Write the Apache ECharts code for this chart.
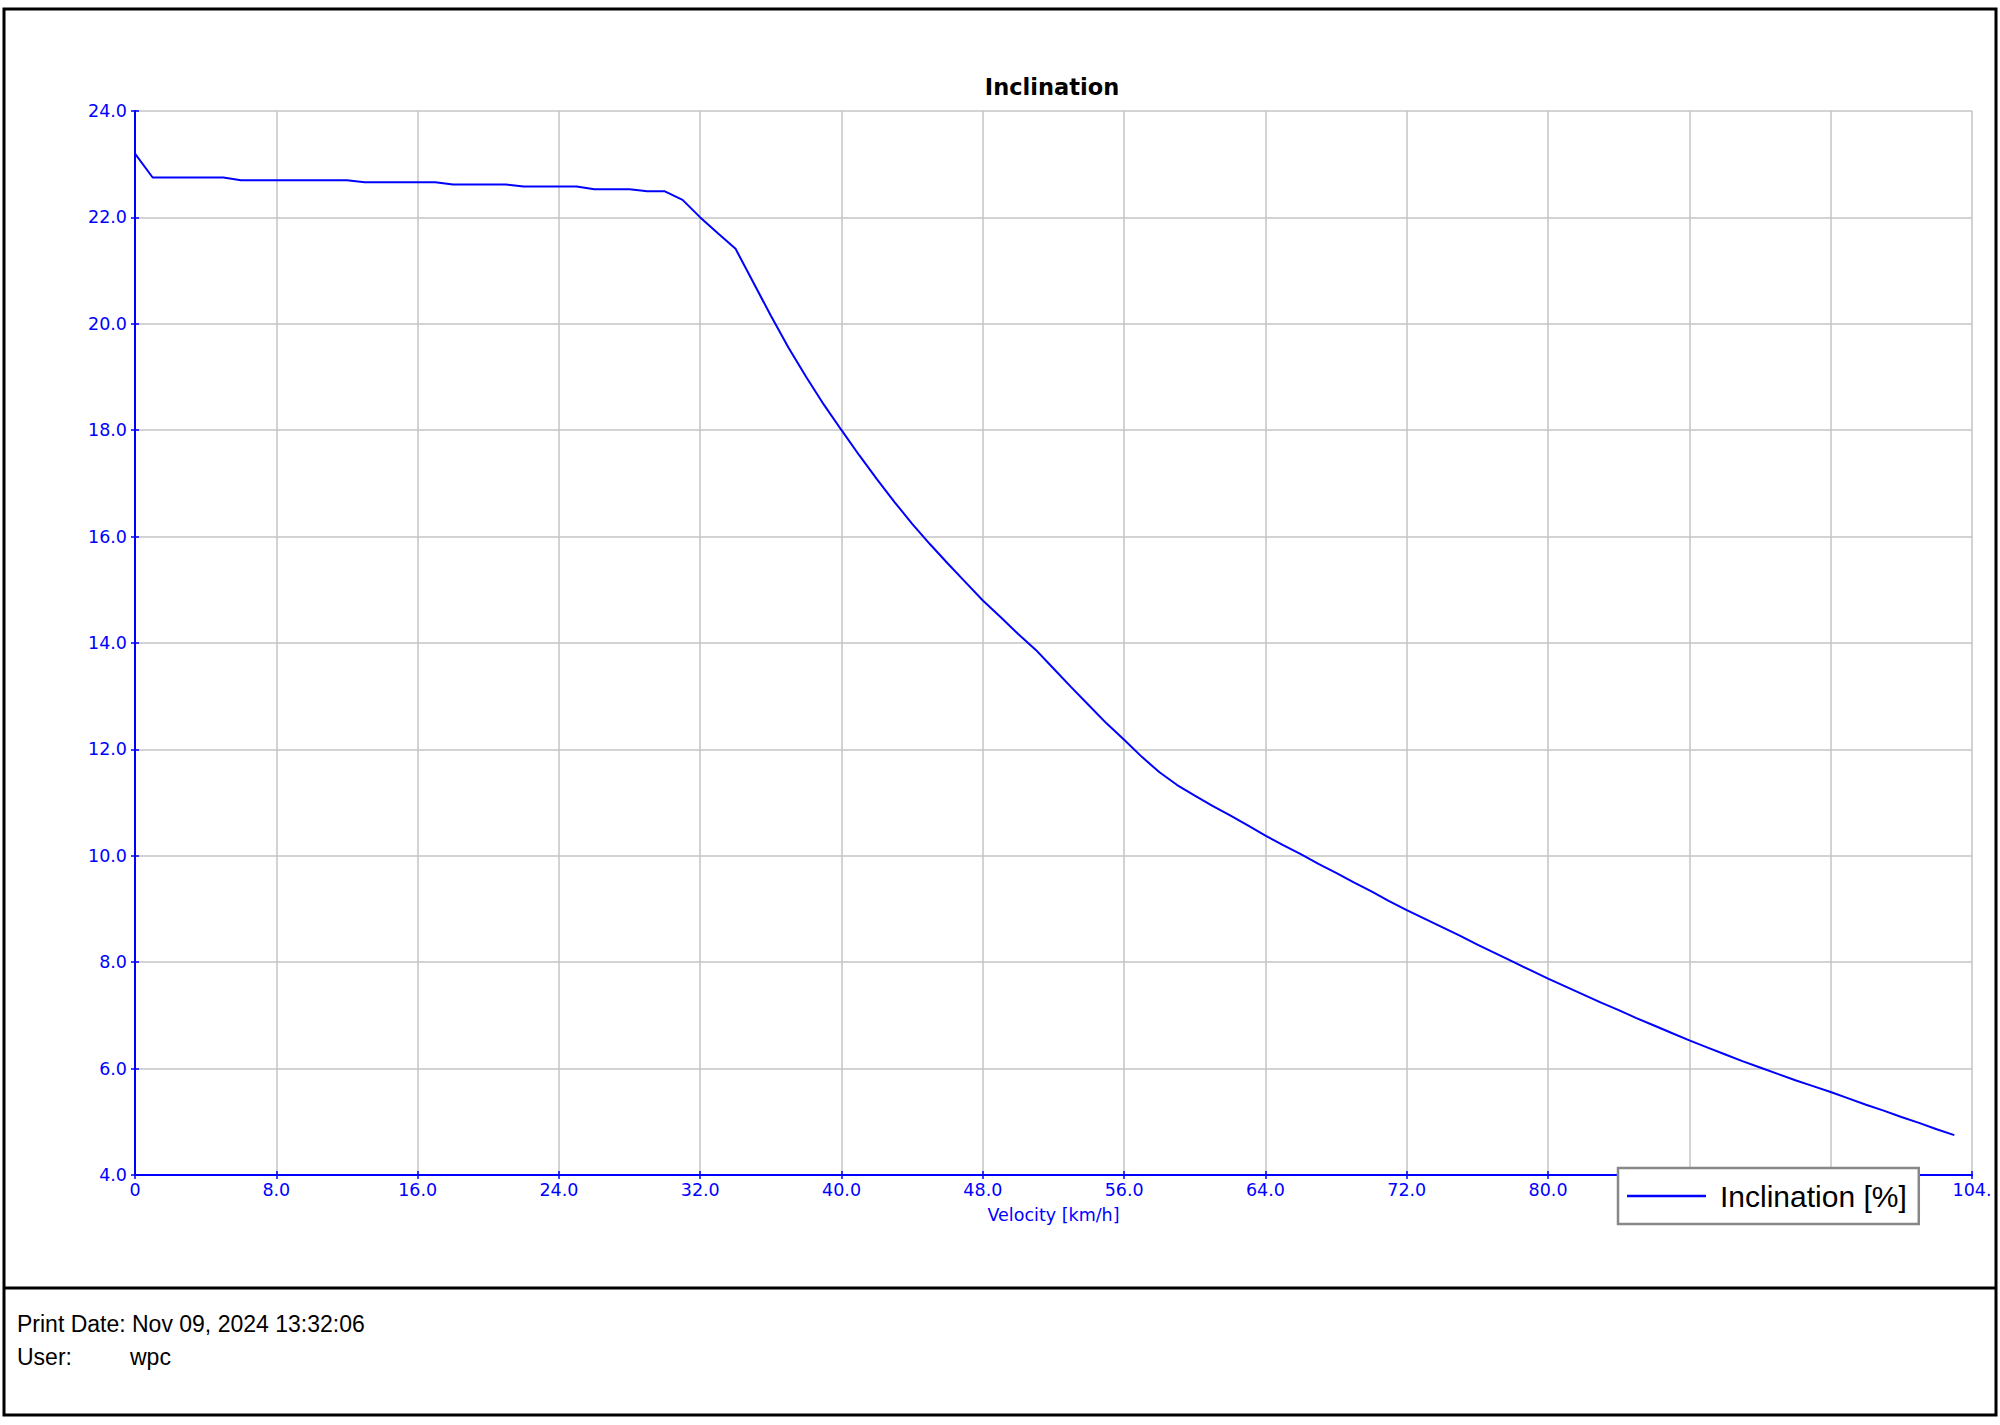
<!DOCTYPE html>
<html>
<head>
<meta charset="utf-8">
<script src="https://cdn.jsdelivr.net/npm/echarts@6/dist/echarts.min.js"></script>
<style>
html,body{margin:0;padding:0;background:#fff;}
#chart{width:2000px;height:1425px;}
</style>
</head>
<body>
<div id="chart"></div>
<script>
// ---- data ----
const chartTitle = 'Inclination';
const seriesName = 'Inclination [%]';
const xAxisName = 'Velocity [km/h]';
const velocity = [0,1,2,3,4,5,6,7,8,9,10,11,12,13,14,15,16,17,18,19,20,21,22,23,24,25,26,27,28,29,30,31,32,33,34,35,36,37,38,39,40,41,42,43,44,45,46,47,48,49,50,51,52,53,54,55,56,57,58,59,60,61,62,63,64,65,66,67,68,69,70,71,72,73,74,75,76,77,78,79,80,81,82,83,84,85,86,87,88,89,90,91,92,93,94,95,96,97,98,99,100,101,102,103];
const inclination = [23.20,22.75,22.75,22.75,22.75,22.75,22.70,22.70,22.70,22.70,22.70,22.70,22.70,22.66,22.66,22.66,22.66,22.66,22.62,22.62,22.62,22.62,22.58,22.58,22.58,22.58,22.53,22.53,22.53,22.49,22.49,22.33,22.00,21.70,21.41,20.78,20.15,19.55,19.00,18.48,18.00,17.53,17.08,16.65,16.24,15.86,15.50,15.15,14.80,14.49,14.17,13.87,13.52,13.17,12.83,12.49,12.18,11.86,11.57,11.33,11.13,10.94,10.76,10.57,10.38,10.20,10.03,9.85,9.68,9.50,9.33,9.15,8.98,8.82,8.66,8.50,8.33,8.17,8.01,7.85,7.69,7.54,7.39,7.24,7.10,6.95,6.81,6.67,6.53,6.40,6.27,6.14,6.02,5.90,5.78,5.67,5.56,5.44,5.32,5.21,5.09,4.98,4.86,4.75];
const xTickValues = [0,8,16,24,32,40,48,56,64,72,80,88,96,104];
const xTickLabels = ['0','8.0','16.0','24.0','32.0','40.0','48.0','56.0','64.0','72.0','80.0','88.0','96.0','104.'];
const yTickValues = [4,6,8,10,12,14,16,18,20,22,24];
const yTickLabels = ['4.0','6.0','8.0','10.0','12.0','14.0','16.0','18.0','20.0','22.0','24.0'];
const footerLines = [['Print Date:', 'Nov 09, 2024 13:32:06'], ['User:', 'wpc']];

// ---- chart ----
const BLUE = '#0000ff';
const GRID = '#c4c4c4';
const AXFONT = '"DejaVu Sans", Verdana, sans-serif';
const FOOTFONT = '23px "Liberation Sans", Arial, sans-serif';
const points = velocity.map((v, i) => [v, inclination[i]]);

function xLab(v) { const i = xTickValues.indexOf(v); return i >= 0 ? xTickLabels[i] : ''; }
function yLab(v) { const i = yTickValues.indexOf(v); return i >= 0 ? yTickLabels[i] : ''; }

const chart = echarts.init(document.getElementById('chart'), null, {renderer: 'svg'});
const option = {
  animation: false,
  backgroundColor: '#ffffff',
  grid: {left: 135, right: 28, top: 111, bottom: 250, containLabel: false},
  xAxis: [{
    type: 'value', min: 0, max: 104, interval: 8, position: 'bottom',
    name: xAxisName, nameLocation: 'middle', nameGap: 31,
    nameTextStyle: {color: BLUE, fontFamily: AXFONT, fontSize: 17.5},
    axisLine: {show: true, onZero: false, lineStyle: {color: BLUE, width: 2}},
    axisTick: {show: true, inside: false, length: 4, lineStyle: {color: BLUE, width: 1.5}},
    axisLabel: {color: BLUE, fontFamily: AXFONT, fontSize: 17.5, margin: 6, formatter: xLab, showMaxLabel: true, showMinLabel: true},
    splitLine: {show: true, lineStyle: {color: GRID, width: 1.5}}
  }, {
    type: 'value', min: 0, max: 104, interval: 8, position: 'bottom',
    axisLine: {show: false}, axisLabel: {show: false}, splitLine: {show: false},
    axisTick: {show: true, inside: true, length: 4, lineStyle: {color: BLUE, width: 1.5}}
  }],
  yAxis: [{
    type: 'value', min: 4, max: 24, interval: 2, position: 'left',
    axisLine: {show: true, onZero: false, lineStyle: {color: BLUE, width: 2}},
    axisTick: {show: true, inside: false, length: 4, lineStyle: {color: BLUE, width: 1.5}},
    axisLabel: {color: BLUE, fontFamily: AXFONT, fontSize: 17.5, margin: 8, formatter: yLab, showMaxLabel: true, showMinLabel: true},
    splitLine: {show: true, lineStyle: {color: GRID, width: 1.5}}
  }, {
    type: 'value', min: 4, max: 24, interval: 2, position: 'left',
    axisLine: {show: false}, axisLabel: {show: false}, splitLine: {show: false},
    axisTick: {show: true, inside: true, length: 4, lineStyle: {color: BLUE, width: 1.5}}
  }],
  legend: {
    show: true, left: 1618, top: 1168, orient: 'horizontal',
    backgroundColor: '#ffffff', borderColor: '#888888', borderWidth: 2.5,
    padding: [13, 12, 13, 9],
    icon: 'rect', itemWidth: 79, itemHeight: 2.5,
    itemStyle: {color: BLUE},
    textStyle: {color: '#000', fontSize: 30, fontFamily: '"Liberation Sans", Arial, sans-serif', padding: [0, 0, 0, 9]},
    data: [seriesName], z: 10
  },
  series: [{
    name: seriesName, type: 'line', data: points,
    showSymbol: false, symbol: 'none', smooth: false,
    lineStyle: {color: BLUE, width: 2}, itemStyle: {color: BLUE},
    clip: true, z: 3
  }],
  graphic: [
    {type: 'rect', z: 100, silent: true, shape: {x: 4, y: 9, width: 1992, height: 1406},
     style: {fill: 'none', stroke: '#000', lineWidth: 3}},
    {type: 'line', z: 100, silent: true, shape: {x1: 4, y1: 1288, x2: 1996, y2: 1288},
     style: {stroke: '#000', lineWidth: 3}},
    {type: 'text', z: 100, x: 1052, y: 87,
     style: {text: chartTitle, fill: '#000', font: 'bold 22.5px "DejaVu Sans", Verdana, sans-serif', align: 'center', verticalAlign: 'middle'}},
    {type: 'text', z: 100, x: 17, y: 1324,
     style: {text: footerLines[0][0], fill: '#000', font: FOOTFONT, align: 'left', verticalAlign: 'middle'}},
    {type: 'text', z: 100, x: 132, y: 1324,
     style: {text: footerLines[0][1], fill: '#000', font: FOOTFONT, align: 'left', verticalAlign: 'middle'}},
    {type: 'text', z: 100, x: 17, y: 1357,
     style: {text: footerLines[1][0], fill: '#000', font: FOOTFONT, align: 'left', verticalAlign: 'middle'}},
    {type: 'text', z: 100, x: 130, y: 1357,
     style: {text: footerLines[1][1], fill: '#000', font: FOOTFONT, align: 'left', verticalAlign: 'middle'}}
  ]
};
chart.setOption(option);
</script>
</body>
</html>
